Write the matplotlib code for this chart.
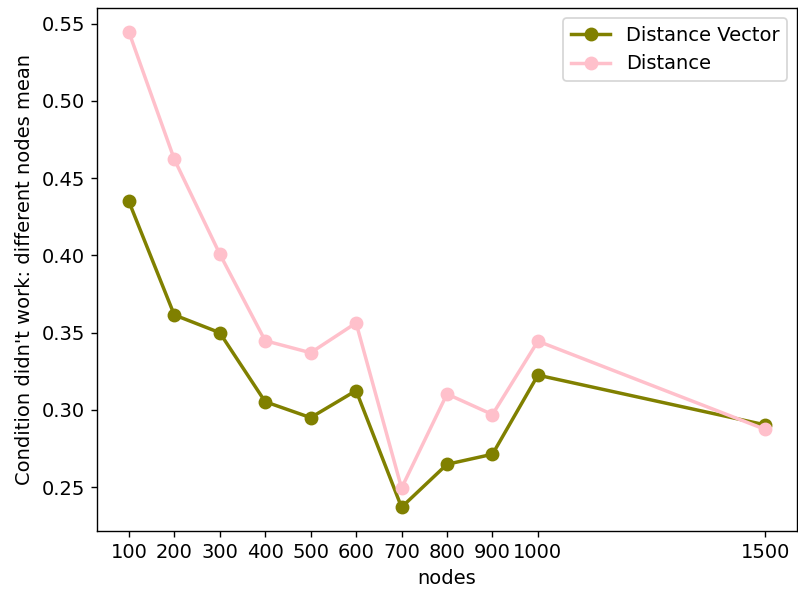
import matplotlib
matplotlib.use('Agg')
import matplotlib.pyplot as plt

plt.rcParams['font.size'] = 11.3

nodes = [100, 200, 300, 400, 500, 600, 700, 800, 900, 1000, 1500]
distance_vector = [0.435, 0.3615, 0.350, 0.3053, 0.295, 0.3125, 0.237, 0.2648, 0.2713, 0.3225, 0.2903]
distance = [0.5448, 0.4623, 0.401, 0.3448, 0.337, 0.3563, 0.2494, 0.3103, 0.297, 0.3445, 0.2874]

DPI = 124.7
fig = plt.figure(figsize=(798 / DPI, 594 / DPI), dpi=DPI)
ax = fig.add_axes([97 / 798, 63 / 594, 700 / 798, 523 / 594])

ax.plot(nodes, distance_vector, '-o', color='olive', linewidth=2, markersize=7, label='Distance Vector')
ax.plot(nodes, distance, '-o', color='pink', linewidth=2, markersize=7, label='Distance')

ax.set_xticks(nodes)
ax.set_xlabel('nodes')
ax.set_ylabel("Condition didn't work: different nodes mean")
ax.legend()

fig.savefig('out.png', dpi=DPI)
